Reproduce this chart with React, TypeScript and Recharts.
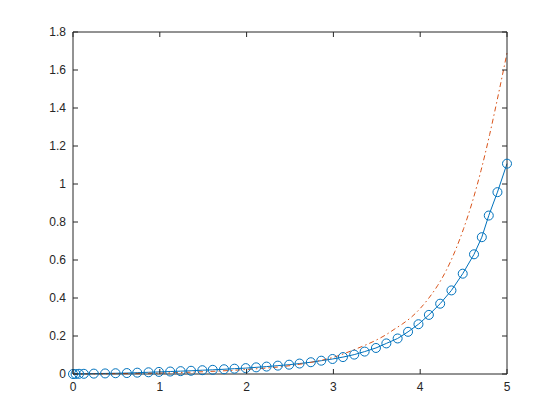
import { LineChart, Line, XAxis, YAxis } from 'recharts';

const INK = '#262626';
const FONT = '"Liberation Sans", Arial, sans-serif';

// solver steps (blue, with markers)
const stepT = [
  0, 0.03, 0.07, 0.125, 0.24, 0.37, 0.49, 0.62, 0.74, 0.87, 0.99, 1.12, 1.24,
  1.36, 1.49, 1.61, 1.74, 1.86, 1.99, 2.11, 2.23, 2.36, 2.49, 2.61, 2.74, 2.86,
  2.99, 3.11, 3.24, 3.36, 3.49, 3.61, 3.74, 3.86, 3.98, 4.1, 4.23, 4.36, 4.49,
  4.62, 4.71, 4.79, 4.89, 5.0,
];
const stepY = [
  0, 0, 0.001, 0.001, 0.002, 0.003, 0.004, 0.005, 0.007, 0.009, 0.011, 0.013,
  0.015, 0.017, 0.02, 0.022, 0.025, 0.028, 0.031, 0.035, 0.039, 0.044, 0.049,
  0.055, 0.062, 0.07, 0.079, 0.089, 0.102, 0.118, 0.137, 0.161, 0.187, 0.222,
  0.262, 0.311, 0.37, 0.44, 0.528, 0.63, 0.72, 0.834, 0.957, 1.107,
];

// reference curve (orange, dash-dot)
const refT = [
  0, 0.5, 1, 1.5, 2, 2.5, 2.75, 3, 3.25, 3.5, 3.6, 3.7, 3.8, 3.9, 4.0, 4.1,
  4.2, 4.3, 4.4, 4.5, 4.6, 4.7, 4.8, 4.9, 5.0,
];
const refY = [
  0, 0.002, 0.005, 0.012, 0.024, 0.044, 0.062, 0.088, 0.13, 0.18, 0.205, 0.235,
  0.265, 0.3, 0.345, 0.4, 0.465, 0.545, 0.645, 0.765, 0.905, 1.07, 1.26, 1.47,
  1.69,
];

const xTicks = [0, 1, 2, 3, 4, 5];
const yTicks = [0, 0.2, 0.4, 0.6, 0.8, 1, 1.2, 1.4, 1.6, 1.8];

const stepData = stepT.map((x, i) => ({ x, y: stepY[i] }));
const refData = refT.map((x, i) => ({ x, y: refY[i] }));

// MATLAB-style ticks point into the plot box
function BottomTick({ x, y, payload }: any) {
  return (
    <g>
      <line x1={x} x2={x} y1={y} y2={y - 5} stroke={INK} />
      <text x={x} y={y + 17} textAnchor="middle" fontSize={12} fill={INK} fontFamily={FONT}>
        {payload.value}
      </text>
    </g>
  );
}

function LeftTick({ x, y, payload }: any) {
  return (
    <g>
      <line x1={x} x2={x + 5} y1={y} y2={y} stroke={INK} />
      <text x={x - 7} y={y + 4} textAnchor="end" fontSize={12} fill={INK} fontFamily={FONT}>
        {payload.value}
      </text>
    </g>
  );
}

function TopTick({ x, y }: any) {
  return <line x1={x} x2={x} y1={y} y2={y + 5} stroke={INK} />;
}

function RightTick({ x, y }: any) {
  return <line x1={x} x2={x - 5} y1={y} y2={y} stroke={INK} />;
}

export default function App() {
  return (
    <div style={{ position: 'absolute', left: 0, top: 0, background: '#fff' }}>
      <LineChart
        width={560}
        height={420}
        margin={{ top: 31, right: 52, bottom: 21, left: 33 }}
      >
        <XAxis
          dataKey="x"
          type="number"
          domain={[0, 5]}
          ticks={xTicks}
          interval={0}
          height={25}
          tickSize={0}
          tickMargin={0}
          tickLine={false}
          axisLine={{ stroke: INK }}
          tick={<BottomTick />}
        />
        <XAxis
          xAxisId="top"
          dataKey="x"
          orientation="top"
          type="number"
          domain={[0, 5]}
          ticks={xTicks}
          interval={0}
          height={1}
          tickSize={0}
          tickMargin={0}
          tickLine={false}
          axisLine={{ stroke: INK }}
          tick={<TopTick />}
        />
        <YAxis
          type="number"
          domain={[0, 1.8]}
          ticks={yTicks}
          interval={0}
          width={40}
          tickSize={0}
          tickMargin={0}
          tickLine={false}
          axisLine={{ stroke: INK }}
          tick={<LeftTick />}
        />
        <YAxis
          yAxisId="right"
          orientation="right"
          type="number"
          domain={[0, 1.8]}
          ticks={yTicks}
          interval={0}
          width={1}
          tickSize={0}
          tickMargin={0}
          tickLine={false}
          axisLine={{ stroke: INK }}
          tick={<RightTick />}
        />
        {/* invisible copy so the box axes (top/right) get a domain */}
        <Line
          xAxisId="top"
          yAxisId="right"
          data={refData}
          dataKey="y"
          stroke="none"
          dot={false}
          activeDot={false}
          legendType="none"
          isAnimationActive={false}
        />
        <Line
          data={stepData}
          dataKey="y"
          type="linear"
          stroke="#0072BD"
          strokeWidth={1}
          dot={{ r: 4.5, stroke: '#0072BD', strokeWidth: 1, fill: 'none' }}
          isAnimationActive={false}
        />
        <Line
          data={refData}
          dataKey="y"
          type="monotone"
          stroke="#D95319"
          strokeWidth={1}
          strokeDasharray="5 3 1.5 3"
          dot={false}
          isAnimationActive={false}
        />
      </LineChart>
    </div>
  );
}
